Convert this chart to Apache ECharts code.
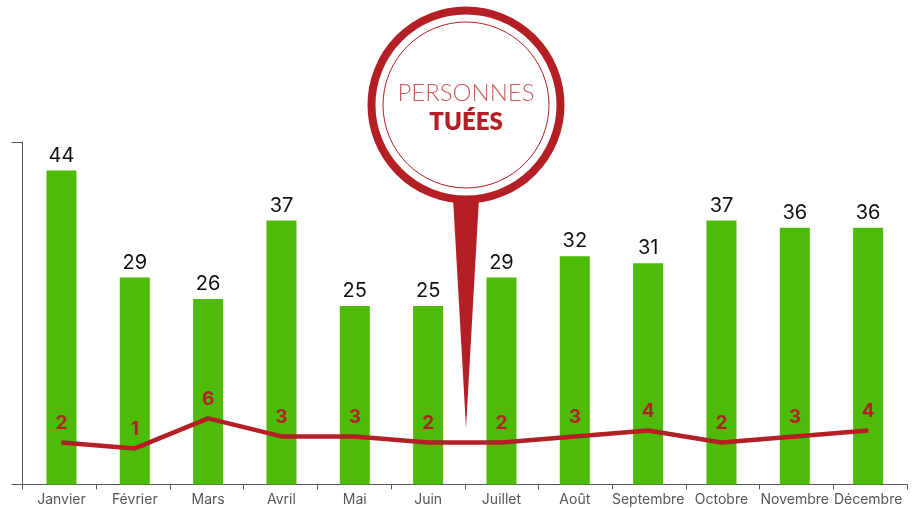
<!DOCTYPE html>
<html>
<head>
<meta charset="utf-8">
<style>
html, body { margin: 0; padding: 0; background: #fff; }
#main { width: 918px; height: 508px; }
</style>
<script src="https://cdn.jsdelivr.net/npm/echarts@6/dist/echarts.min.js"></script>
</head>
<body>
<div id="main"></div>
<script>
var mois = ['Janvier', 'Février', 'Mars', 'Avril', 'Mai', 'Juin', 'Juillet', 'Août', 'Septembre', 'Octobre', 'Novembre', 'Décembre'];
var blesses = [44, 29, 26, 37, 25, 25, 29, 32, 31, 37, 36, 36];
var tues = [2, 1, 6, 3, 3, 2, 2, 3, 4, 2, 3, 4];

var rouge = '#b31f24';
var axe = '#555555';
var police = 'Inter, "Noto Sans", sans-serif';

var myChart = echarts.init(document.getElementById('main'));

var option = {
    animation: false,
    // grille 0 : barres et courbe, grille 1 : le cadre des axes (un peu plus large)
    grid: [
        { left: 24.8, top: 142, width: 880, height: 342.5 },
        { left: 22.5, top: 142, width: 884.5, height: 342.5 }
    ],
    xAxis: [
        {
            type: 'category',
            gridIndex: 0,
            data: mois,
            axisLine: { show: false },
            axisTick: { show: false },
            axisLabel: { color: axe, fontFamily: police, fontSize: 14, margin: 8, interval: 0 }
        },
        {
            type: 'category',
            gridIndex: 1,
            data: mois,
            axisLine: { show: true, lineStyle: { color: axe, width: 1 } },
            axisTick: { show: true, alignWithLabel: false, interval: 0, length: 5, lineStyle: { color: axe, width: 1 } },
            axisLabel: { show: false }
        }
    ],
    yAxis: [
        { type: 'value', gridIndex: 0, min: 0, max: 48, show: false },
        { type: 'value', gridIndex: 0, min: -5, max: 52, show: false },
        {
            type: 'value',
            gridIndex: 1,
            min: 0,
            max: 48,
            interval: 48,
            axisLine: { show: true, lineStyle: { color: axe, width: 1 } },
            axisTick: { show: true, length: 11, lineStyle: { color: axe, width: 1 } },
            axisLabel: { show: false },
            splitLine: { show: false }
        }
    ],
    series: [
        {
            name: 'Blessés',
            type: 'bar',
            xAxisIndex: 0,
            yAxisIndex: 0,
            barWidth: 30,
            itemStyle: { color: '#4dbb07' },
            label: { show: true, position: 'top', distance: 5, color: '#111', fontFamily: police, fontSize: 20 },
            data: blesses
        },
        {
            name: 'Personnes tuées',
            type: 'line',
            xAxisIndex: 0,
            yAxisIndex: 1,
            symbol: 'circle',
            symbolSize: 1,
            showSymbol: true,
            itemStyle: { color: rouge },
            lineStyle: { color: rouge, width: 4.5 },
            label: { show: true, position: 'top', distance: 9, color: rouge, fontFamily: police, fontSize: 19, fontWeight: 'bold' },
            data: tues
        }
    ],
    graphic: [
        { type: 'polygon', z: 10, shape: { points: [[453, 198], [479, 198], [466, 428]] }, style: { fill: rouge } },
        { type: 'circle', z: 11, shape: { cx: 466, cy: 105, r: 94.5 }, style: { fill: '#fff', stroke: rouge, lineWidth: 8 } },
        { type: 'circle', z: 12, shape: { cx: 466, cy: 105, r: 83 }, style: { fill: '#fff', stroke: rouge, lineWidth: 1 } },
        { type: 'text', z: 13, style: { x: 466, y: 93, text: 'PERSONNES', align: 'center', verticalAlign: 'middle', fill: '#cf5a5e', font: '300 24px Lato, Inter, sans-serif' } },
        { type: 'text', z: 13, style: { x: 466, y: 122, text: 'TUÉES', align: 'center', verticalAlign: 'middle', fill: rouge, font: '800 24px Lato, Inter, sans-serif' } }
    ]
};

myChart.setOption(option);
window.onresize = myChart.resize;
</script>
</body>
</html>
